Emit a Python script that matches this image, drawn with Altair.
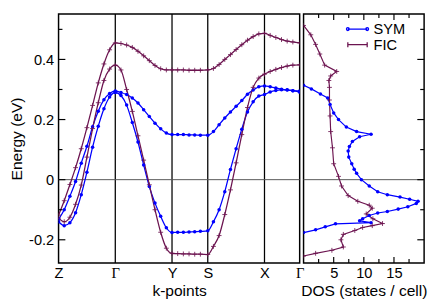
import altair as alt
import pandas as pd

# ---------------- data ----------------
K_POS = [0.0, 1.0, 2.0, 2.63, 3.63, 4.25]
K_NAMES = ["Z", "Γ", "Y", "S", "X", "Γ"]

k = [0.0, 0.1, 0.2, 0.3, 0.4, 0.5, 0.6, 0.7, 0.8, 0.9, 1.0,
     1.1, 1.2, 1.3, 1.4, 1.5, 1.6, 1.7, 1.8, 1.9, 2.0,
     2.1, 2.2, 2.3, 2.4, 2.5, 2.63,
     2.73, 2.83, 2.93, 3.03, 3.13, 3.23, 3.33, 3.43, 3.53, 3.63,
     3.73, 3.83, 3.93, 4.03, 4.13, 4.25]

sym_band1 = [-0.132, -0.100, -0.055, -0.006, 0.055, 0.111, 0.176, 0.228, 0.266, 0.287, 0.295,
             0.290, 0.283, 0.272, 0.255, 0.233, 0.210, 0.188, 0.169, 0.155, 0.150,
             0.150, 0.150, 0.149, 0.149, 0.148, 0.148,
             0.160, 0.183, 0.205, 0.225, 0.244, 0.263, 0.284, 0.298, 0.309, 0.312,
             0.309, 0.305, 0.301, 0.298, 0.296, 0.295]
sym_band2 = [-0.140, -0.153, -0.143, -0.110, -0.050, 0.025, 0.108, 0.178, 0.236, 0.275, 0.290,
             0.280, 0.248, 0.190, 0.125, 0.049, -0.023, -0.078, -0.122, -0.160, -0.176,
             -0.175, -0.175, -0.174, -0.173, -0.172, -0.170,
             -0.140, -0.100, -0.040, 0.034, 0.103, 0.168, 0.225, 0.259, 0.278, 0.283,
             0.292, 0.297, 0.299, 0.299, 0.296, 0.291]
fic_band1 = [-0.118, -0.070, -0.016, 0.040, 0.103, 0.173, 0.247, 0.322, 0.385, 0.432, 0.455,
             0.453, 0.448, 0.440, 0.427, 0.412, 0.396, 0.380, 0.369, 0.365, 0.365,
             0.365, 0.365, 0.364, 0.364, 0.364, 0.365,
             0.370, 0.383, 0.400, 0.416, 0.433, 0.449, 0.464, 0.476, 0.485, 0.487,
             0.480, 0.473, 0.466, 0.461, 0.458, 0.455]
fic_band2 = [-0.128, -0.140, -0.125, -0.082, -0.018, 0.075, 0.170, 0.256, 0.330, 0.368, 0.381,
             0.365, 0.300, 0.227, 0.146, 0.065, -0.017, -0.100, -0.175, -0.228, -0.245,
             -0.246, -0.247, -0.247, -0.248, -0.248, -0.249,
             -0.222, -0.186, -0.116, -0.034, 0.056, 0.150, 0.240, 0.307, 0.338, 0.351,
             0.360, 0.367, 0.373, 0.378, 0.381, 0.382]

sym_dos_E = [0.314, 0.302, 0.285, 0.272, 0.250, 0.222, 0.200, 0.175, 0.160, 0.151,
             0.143, 0.127, 0.110, 0.095, 0.075, 0.053, 0.035, 0.021, 0.000, -0.021,
             -0.040, -0.050, -0.058, -0.065, -0.072, -0.079, -0.090, -0.098, -0.106, -0.111,
             -0.119, -0.130, -0.137, -0.143, -0.147, -0.157, -0.167, -0.176]
sym_dos = [0.0, 1.3, 2.8, 4.0, 4.4, 5.0, 5.8, 7.1, 8.8, 11.2,
           9.3, 8.1, 7.6, 7.4, 7.5, 8.0, 8.4, 8.8, 9.6, 10.9,
           12.3, 13.9, 16.0, 17.6, 19.0, 18.7, 17.3, 15.7, 13.9, 12.3,
           10.9, 9.8, 9.3, 11.2, 5.3, 3.6, 2.0, 0.0]

fic_dos_E = [0.513, 0.482, 0.450, 0.418, 0.381, 0.360, 0.345, 0.330, 0.307, 0.265,
             0.212, 0.160, 0.106, 0.053, 0.011, -0.021, -0.053, -0.072, -0.085, -0.095,
             -0.114, -0.130, -0.146, -0.153, -0.159, -0.169, -0.182, -0.200, -0.224, -0.235,
             -0.245, -0.254]
fic_dos = [0.0, 1.2, 2.0, 2.7, 3.5, 5.5, 4.5, 4.2, 4.3, 4.3,
           4.4, 4.5, 4.8, 5.0, 5.8, 6.3, 7.4, 9.0, 10.9, 11.4,
           10.4, 11.5, 13.1, 11.4, 9.8, 8.5, 6.6, 6.2, 6.6, 4.7,
           2.0, 0.0]

SERIES = ["SYM", "FIC"]
E_MAJOR = [-0.2, 0.0, 0.2, 0.4]
E_MINOR = [-0.1, 0.1, 0.3, 0.5]
DOS_MAJOR = [5, 10, 15]
DOS_MINOR = [2.5, 7.5, 12.5, 17.5]

# ---------------- styling ----------------
BLUE = "#0000ff"
MAROON = "#6c1450"
FONT = "Liberation Sans"
W1, W2, H = 248, 124, 256
LAB, TIT = 15, 16

PLUS = "M-1,0L1,0M0,-1L0,1"
SYM_LEG = ("M-2.1,0L2.1,0"
           "M-1.8,0A0.3,0.3,0,1,1,-2.4,0A0.3,0.3,0,1,1,-1.8,0Z"
           "M2.4,0A0.3,0.3,0,1,1,1.8,0A0.3,0.3,0,1,1,2.4,0Z")
FIC_LEG = "M-2.1,0L2.1,0M-2.1,-0.55L-2.1,0.55M2.1,-0.55L2.1,0.55"

rows = []
for s, bands in (("SYM", [sym_band1, sym_band2]), ("FIC", [fic_band1, fic_band2])):
    for bi, vals in enumerate(bands):
        for kk, e in zip(k, vals):
            rows.append({"k": kk, "E": e, "series": s, "band": f"{s}{bi}"})
bands_df = pd.DataFrame(rows)

drows = []
for s, es, ds in (("SYM", sym_dos_E, sym_dos), ("FIC", fic_dos_E, fic_dos)):
    for i, (e, d) in enumerate(zip(es, ds)):
        drows.append({"i": i, "E": e, "dos": d, "series": s})
dos_df = pd.DataFrame(drows)

ys = alt.Scale(domain=[-0.277, 0.551], nice=False, zero=False)
xs = alt.Scale(domain=[K_POS[0], K_POS[-1]], nice=False, zero=False)
xd = alt.Scale(domain=[0, 20], nice=False, zero=False)
cscale = alt.Scale(domain=SERIES, range=[BLUE, MAROON])

# k label expression
expr = f"'{K_NAMES[-1]}'"
for i in range(len(K_POS) - 2, -1, -1):
    thr = (K_POS[i] + K_POS[i + 1]) / 2
    expr = f"datum.value < {thr} ? '{K_NAMES[i]}' : ({expr})"
gamma_test = " || ".join(
    f"abs(datum.value - {p}) < 0.01" for p, n in zip(K_POS, K_NAMES) if n == "Γ")

x_axis_k = alt.Axis(values=K_POS, labelExpr=expr, title="k-points", ticks=False,
                    domain=False, grid=False, labelFlush=False, labelOverlap=False,
                    labelPadding=3, titlePadding=2, labelFontSize=LAB, titleFontSize=TIT,
                    titleFontWeight="normal",
                    labelFont={"condition": {"test": gamma_test, "value": "Liberation Serif"},
                               "value": FONT})
y_axis = alt.Axis(values=E_MAJOR,
                  labelExpr="datum.value == 0 ? '0' : (datum.value < 0 ? '-' : '') + format(abs(datum.value), '.1f')",
                  title="Energy (eV)", ticks=False, domain=False, grid=False,
                  labelPadding=5, titlePadding=4, labelFontSize=LAB, titleFontSize=TIT,
                  titleFontWeight="normal", labelOverlap=False, labelFlush=False)
x_axis_dos = alt.Axis(values=DOS_MAJOR, format="d", title="DOS (states / cell)", ticks=False,
                      domain=False, grid=False, labelFlush=False, labelOverlap=False,
                      labelPadding=3, titlePadding=2, labelFontSize=LAB, titleFontSize=TIT,
                      titleFontWeight="normal")

XK = lambda: alt.X("k:Q", scale=xs, axis=x_axis_k)
YL = lambda: alt.Y("E:Q", scale=ys, axis=y_axis)
XD = lambda: alt.X("dos:Q", scale=xd, axis=x_axis_dos)
YR = lambda: alt.Y("E:Q", scale=ys, axis=None)

# ---------------- left panel ----------------
vlines = alt.Chart(pd.DataFrame({"k": K_POS[1:-1]})).mark_rule(
    color="black", strokeWidth=1.3).encode(x=XK())
zero_l = alt.Chart(pd.DataFrame({"E": [0.0]})).mark_rule(
    color="#555555", strokeWidth=1).encode(y=YL())
band_lines = alt.Chart(bands_df).mark_line(
    interpolate="monotone", strokeWidth=1.3, clip=True).encode(
    x=XK(), y=YL(),
    color=alt.Color("series:N", scale=cscale, legend=None), detail="band:N")
sym_pts = alt.Chart(bands_df).transform_filter("datum.series == 'SYM'").mark_point(
    shape="circle", filled=True, size=13, opacity=1, color=BLUE, clip=True).encode(x=XK(), y=YL())
fic_pts = alt.Chart(bands_df).transform_filter("datum.series == 'FIC'").mark_point(
    shape=PLUS, filled=False, size=25, strokeWidth=1, opacity=0.85, color=MAROON, clip=True).encode(
    x=XK(), y=YL())
lt_major = alt.Chart(pd.DataFrame({"E": E_MAJOR})).mark_rule(color="black", strokeWidth=1.2).encode(
    y=YL(), x=alt.value(0), x2=alt.value(7))
lt_minor = alt.Chart(pd.DataFrame({"E": E_MINOR})).mark_rule(color="black", strokeWidth=1.2).encode(
    y=YL(), x=alt.value(0), x2=alt.value(4))

left = alt.layer(vlines, zero_l, band_lines, sym_pts, fic_pts, lt_major, lt_minor).properties(
    width=W1, height=H)

# ---------------- right panel ----------------
zero_r = alt.Chart(pd.DataFrame({"E": [0.0]})).mark_rule(
    color="#555555", strokeWidth=1).encode(y=YR())

def dos_line(series, color):
    return alt.Chart(dos_df).transform_filter(f"datum.series == '{series}'").mark_line(
        strokeWidth=1.2, clip=True, color=color).encode(x=XD(), y=YR(), order="i:Q")

sym_d = alt.Chart(dos_df).transform_filter("datum.series == 'SYM'").mark_point(
    shape="circle", filled=True, size=13, opacity=1, color=BLUE, clip=True).encode(x=XD(), y=YR())
fic_d = alt.Chart(dos_df).transform_filter("datum.series == 'FIC'").mark_point(
    shape=PLUS, filled=False, size=25, strokeWidth=1, opacity=0.85, color=MAROON, clip=True).encode(
    x=XD(), y=YR())

def xticks(vals, y0, y1):
    return alt.Chart(pd.DataFrame({"dos": vals})).mark_rule(color="black", strokeWidth=1.2).encode(
        x=XD(), y=alt.value(y0), y2=alt.value(y1))

def yticks(vals, length):
    return alt.Chart(pd.DataFrame({"E": vals})).mark_rule(color="black", strokeWidth=1.2).encode(
        y=YR(), x=alt.value(W2), x2=alt.value(W2 - length))

LEG = alt.Legend(title=None, orient="none", legendX=48, legendY=8, symbolSize=90,
                 labelFontSize=LAB, labelFont=FONT, labelOffset=9, rowPadding=0, padding=0,
                 symbolStrokeWidth=1.3, labelColor="black")
leg = alt.Chart(dos_df).transform_filter("datum.i == 0").mark_point(
    filled=True, strokeWidth=1.3, opacity=0).encode(
    x=XD(), y=YR(),
    shape=alt.Shape("series:N", scale=alt.Scale(domain=SERIES, range=[SYM_LEG, FIC_LEG]), legend=LEG),
    fill=alt.Fill("series:N", scale=alt.Scale(domain=SERIES, range=[BLUE, MAROON]), legend=LEG),
    stroke=alt.Stroke("series:N", scale=alt.Scale(domain=SERIES, range=[BLUE, MAROON]), legend=LEG))

right = alt.layer(
    zero_r, dos_line("SYM", BLUE), dos_line("FIC", MAROON), sym_d, fic_d,
    xticks(DOS_MAJOR, 0, 6), xticks(DOS_MINOR, 0, 4),
    xticks(DOS_MAJOR, H, H - 6), xticks(DOS_MINOR, H, H - 4),
    yticks(E_MAJOR, 7), yticks(E_MINOR, 4), leg,
).properties(width=W2, height=H)

chart = alt.hconcat(left, right, spacing=4, bounds="flush").resolve_scale(
    color="independent", shape="independent", fill="independent", stroke="independent"
).resolve_legend(
    color="independent", shape="independent", fill="independent", stroke="independent"
).properties(
    padding={"left": 0, "top": 0, "right": 0, "bottom": 0}
).configure_view(
    stroke="black", strokeWidth=1.5
).configure_axis(
    labelFont=FONT, titleFont=FONT, labelColor="black", titleColor="black"
).configure_legend(labelFont=FONT)

chart.save("out.html", embed_options={"renderer": "svg", "actions": False})
